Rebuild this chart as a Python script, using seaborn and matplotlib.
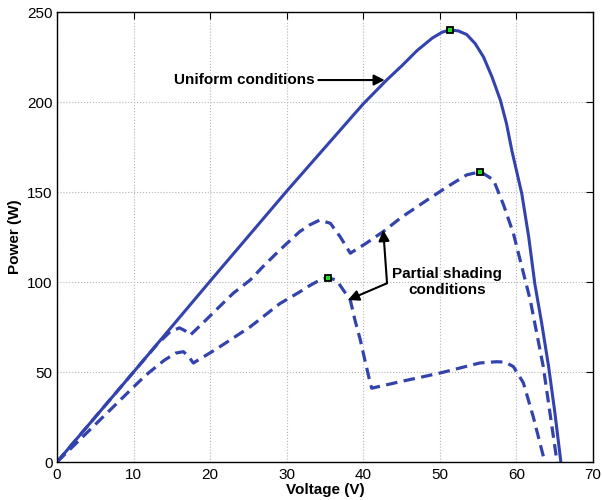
import matplotlib.pyplot as plt
import seaborn as sns
import pandas as pd

# values
uniform_v = [0, 10, 20, 30, 40, 43, 45, 47, 49, 50.3, 51.3, 52.4, 53.5, 54.6, 55.7, 56.8, 57.9,
             58.7, 59.4, 60.7, 61.6, 62.4, 63.3, 64.2, 65.0, 65.8]
uniform_p = [0, 50, 100.5, 150.5, 199, 212, 220, 228.5, 235.5, 238.8, 240, 239.5, 237.5, 232.5, 225, 214, 201,
             188, 173, 149, 125, 99, 77, 53, 28, 0]

shade1_v = [0, 10, 13, 14.8, 16, 16.7, 17.4, 19, 20.9, 23, 25.2, 27, 29.1, 31.7, 33, 34.3, 35.7, 37,
            38.3, 40.4, 42.6, 45, 48.5, 51, 53.5, 55.3, 57, 58.3, 59.6, 61.8, 63.5, 65.3]
shade1_p = [0, 50, 65, 72.5, 74.5, 73, 70.5, 77, 85, 93.7, 101, 109, 117.8, 128, 131.7, 134.4, 132.6, 125,
            116, 121.6, 128, 136, 146, 153, 159.5, 161.3, 156.7, 143, 127, 90, 53, 0]

shade2_v = [0, 10.8, 12.1, 14, 15.5, 16.5, 17.2, 17.8, 20.9, 25.2, 29.1, 31.7, 33, 34.5, 35.4, 36.5,
            37.4, 38.3, 38.9, 39.6, 40.2, 40.9, 41.1, 44.8, 50, 55.2, 57.4, 58.5, 59.6, 60.9, 62.2, 63.7]
shade2_p = [0, 45, 50, 56.5, 60.5, 61.3, 58.5, 55, 63, 75, 88, 94.5, 98, 101.5, 102.4, 101,
            95.5, 90, 79, 68, 56.7, 43.9, 41, 44.6, 49.4, 55, 55.7, 55.5, 53, 44, 25, 0]

# maximum power points
mpp_v = [51.3, 55.3, 35.4]
mpp_p = [240, 161.3, 102.4]

xticks = [0, 10, 20, 30, 40, 50, 60, 70]
yticks = [0, 50, 100, 150, 200, 250]

sns.set_style("white")
plt.rcParams['font.family'] = ['Liberation Sans', 'DejaVu Sans']
plt.rcParams['text.color'] = 'black'
plt.rcParams['axes.labelcolor'] = 'black'

line_color = '#3343ad'

fig = plt.figure(figsize=(6.02, 5.0), dpi=100)
ax = fig.add_axes([0.0947, 0.076, 0.8904, 0.9])

df_u = pd.DataFrame({'V': uniform_v, 'P': uniform_p})
df_s1 = pd.DataFrame({'V': shade1_v, 'P': shade1_p})
df_s2 = pd.DataFrame({'V': shade2_v, 'P': shade2_p})

sns.lineplot(data=df_u, x='V', y='P', ax=ax, color=line_color, linewidth=2.2, estimator=None, sort=False)
sns.lineplot(data=df_s1, x='V', y='P', ax=ax, color=line_color, linewidth=2.3, estimator=None, sort=False,
             linestyle=(0, (3.6, 2.0)))
sns.lineplot(data=df_s2, x='V', y='P', ax=ax, color=line_color, linewidth=2.3, estimator=None, sort=False,
             linestyle=(0, (3.6, 2.0)))

ax.plot(mpp_v, mpp_p, linestyle='none', marker='s', markersize=5,
        markerfacecolor='#22dd22', markeredgecolor='black', markeredgewidth=1.3, zorder=5)

ax.set_xlim(0, 70)
ax.set_ylim(0, 250)
ax.set_xticks(xticks)
ax.set_yticks(yticks)
ax.grid(True, linestyle=':', color='#b5b5b5', linewidth=0.8)
ax.tick_params(direction='in', top=True, right=True, length=5, width=0.8, labelsize=11,
               colors='black')
ax.tick_params(axis='y', pad=3)
ax.tick_params(axis='x', pad=4)
for s in ax.spines.values():
    s.set_color('black')
    s.set_linewidth(1.0)

ax.set_xlabel('Voltage (V)', fontsize=11, fontweight='bold', labelpad=1)
ax.set_ylabel('Power (W)', fontsize=11, fontweight='bold', labelpad=4)

# annotations
arrow = dict(arrowstyle='-|>', color='black', lw=1.5, mutation_scale=16, shrinkA=0, shrinkB=0)
ax.annotate('Uniform conditions', xy=(42.8, 212.2), xytext=(33.7, 212.2), color='black',
            fontsize=11, fontweight='bold', ha='right', va='center', arrowprops=arrow)
ax.annotate('', xy=(42.6, 128.9), xytext=(43.1, 99.3), arrowprops=arrow)
ax.annotate('', xy=(38.0, 90), xytext=(43.1, 99.3), arrowprops=arrow)
ax.text(50.9, 100, 'Partial shading\nconditions', fontsize=11, fontweight='bold', color='black',
        ha='center', va='center', linespacing=1.1)

plt.savefig('out.png', dpi=100)
